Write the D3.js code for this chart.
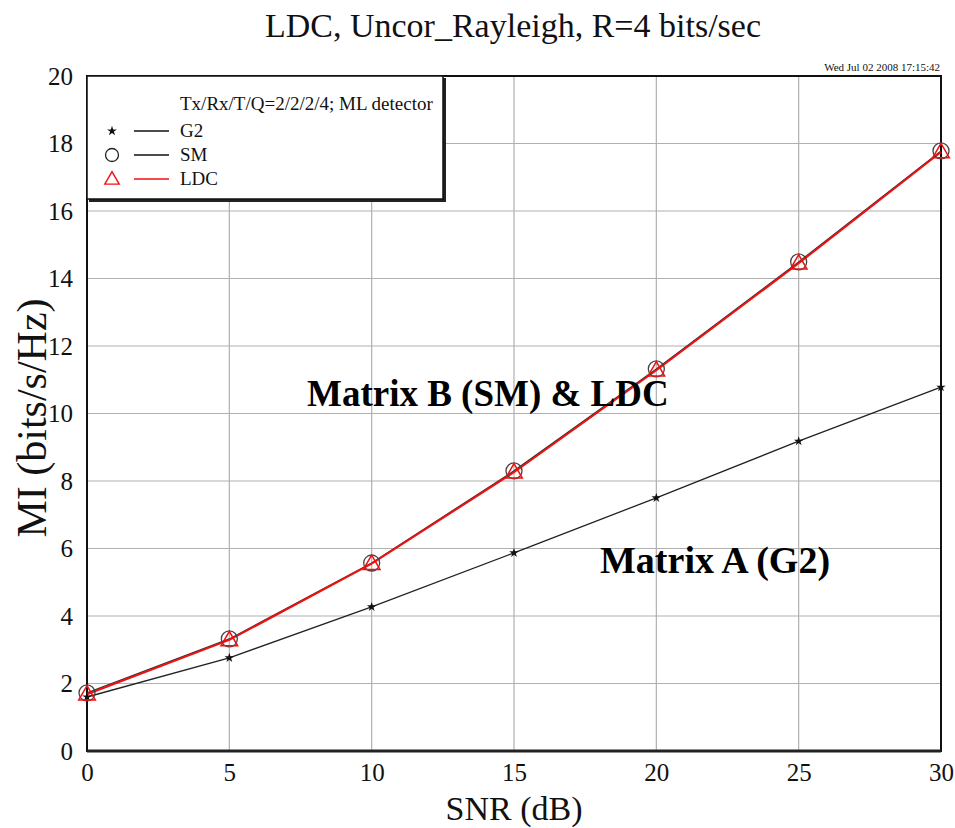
<!DOCTYPE html>
<html>
<head>
<meta charset="utf-8">
<script src="https://cdn.jsdelivr.net/npm/d3@7"></script>
<style>
  body { margin: 0; background: #fff; }
  svg text { font-family: "Liberation Serif", "Times New Roman", Times, serif !important; }
</style>
</head>
<body>
<div id="chart"></div>
<script>
// data
const snr = [0, 5, 10, 15, 20, 25, 30];
const g2 = [1.6, 2.76, 4.27, 5.87, 7.5, 9.18, 10.78];
const sm = [1.72, 3.32, 5.57, 8.3, 11.32, 14.49, 17.78];
const ldc = [1.68, 3.29, 5.55, 8.26, 11.28, 14.45, 17.75];
const xTicks = [0, 5, 10, 15, 20, 25, 30];
const yTicks = [0, 2, 4, 6, 8, 10, 12, 14, 16, 18, 20];

const W = 955, H = 828;
const margin = {top: 76, right: 14, bottom: 77, left: 87};
const width = W - margin.left - margin.right,
      height = H - margin.top - margin.bottom;
const serif = "'Liberation Serif', 'Times New Roman', serif";

const svg = d3.select("#chart").append("svg")
    .attr("width", W).attr("height", H)
    .attr("font-family", serif);

const g = svg.append("g")
    .attr("transform", `translate(${margin.left},${margin.top})`);

const x = d3.scaleLinear().domain([0, 30]).range([0, width]);
const y = d3.scaleLinear().domain([0, 20]).range([height, 0]);

// grid
g.selectAll(".vgrid").data(xTicks).join("line")
    .attr("x1", d => x(d)).attr("x2", d => x(d))
    .attr("y1", 0).attr("y2", height)
    .attr("stroke", "#b0b0b0").attr("stroke-width", 1.2);
g.selectAll(".hgrid").data(yTicks).join("line")
    .attr("x1", 0).attr("x2", width)
    .attr("y1", d => y(d)).attr("y2", d => y(d))
    .attr("stroke", "#b0b0b0").attr("stroke-width", 1.2);

// axes (labels only)
const xAxis = g.append("g")
    .attr("transform", `translate(0,${height})`)
    .call(d3.axisBottom(x).tickValues(xTicks).tickSize(0).tickPadding(12));
xAxis.attr("font-family", serif).attr("font-size", 25);
xAxis.select(".domain").remove();
xAxis.selectAll("text").attr("fill", "#111");

const yAxis = g.append("g")
    .call(d3.axisLeft(y).tickValues(yTicks).tickSize(0).tickPadding(14));
yAxis.attr("font-family", serif).attr("font-size", 25);
yAxis.select(".domain").remove();
yAxis.selectAll("text").attr("fill", "#111");

// plot frame
g.append("rect")
    .attr("width", width).attr("height", height)
    .attr("fill", "none").attr("stroke", "#111").attr("stroke-width", 2);
g.append("line").attr("x1", 0).attr("x2", width).attr("y1", height).attr("y2", height)
    .attr("stroke", "#222").attr("stroke-width", 3);

// lines
const line = d3.line().x((d, i) => x(snr[i])).y(d => y(d));

g.append("path").datum(g2)
    .attr("fill", "none").attr("stroke", "#222").attr("stroke-width", 1.3)
    .attr("d", line);
g.append("path").datum(sm)
    .attr("fill", "none").attr("stroke", "#333").attr("stroke-width", 1.3)
    .attr("d", line);
g.append("path").datum(ldc)
    .attr("fill", "none").attr("stroke", "#f01010").attr("stroke-width", 2)
    .attr("d", line);

// markers
const star = d3.symbol().type(d3.symbolStar).size(28);
const tri = d3.symbol().type(d3.symbolTriangle).size(120);

g.selectAll(".g2pt").data(g2).join("path")
    .attr("transform", (d, i) => `translate(${x(snr[i])},${y(d)})`)
    .attr("d", star).attr("fill", "#111");
g.selectAll(".smpt").data(sm).join("circle")
    .attr("cx", (d, i) => x(snr[i])).attr("cy", d => y(d))
    .attr("r", 8).attr("fill", "none").attr("stroke", "#444").attr("stroke-width", 1.3);
g.selectAll(".ldcpt").data(ldc).join("path")
    .attr("transform", (d, i) => `translate(${x(snr[i])},${y(d) + 1})`)
    .attr("d", tri).attr("fill", "none").attr("stroke", "#f01010").attr("stroke-width", 1.5);

// legend
const leg = svg.append("g").attr("transform", `translate(${margin.left},${margin.top})`);
leg.append("rect").attr("x", 2).attr("y", 2).attr("width", 357).attr("height", 124)
    .attr("fill", "#222");
leg.append("rect").attr("width", 356).attr("height", 123)
    .attr("fill", "#fff").attr("stroke", "#111").attr("stroke-width", 1.5);
leg.append("text").attr("x", 93).attr("y", 34)
    .style("font-size", "19px").attr("fill", "#111")
    .text("Tx/Rx/T/Q=2/2/2/4; ML detector");

const legItems = [
    {name: "G2", color: "#111"},
    {name: "SM", color: "#111"},
    {name: "LDC", color: "#f01010"}
];
legItems.forEach((it, i) => {
    const ly = 55 + i * 24;
    leg.append("line").attr("x1", 47).attr("x2", 82).attr("y1", ly).attr("y2", ly)
        .attr("stroke", it.color).attr("stroke-width", 1.4);
    leg.append("text").attr("x", 93).attr("y", ly + 6)
        .style("font-size", "19px").attr("fill", "#111").text(it.name);
});
leg.append("path").attr("transform", "translate(25,55)")
    .attr("d", d3.symbol().type(d3.symbolStar).size(30)).attr("fill", "#111");
leg.append("circle").attr("cx", 25).attr("cy", 79).attr("r", 6.5)
    .attr("fill", "none").attr("stroke", "#222").attr("stroke-width", 1.3);
leg.append("path").attr("transform", "translate(25,104)")
    .attr("d", d3.symbol().type(d3.symbolTriangle).size(90))
    .attr("fill", "none").attr("stroke", "#f01010").attr("stroke-width", 1.4);

// title and labels
svg.append("text").attr("x", 513).attr("y", 37).attr("text-anchor", "middle")
    .style("font-size", "34px").attr("fill", "#111")
    .text("LDC, Uncor_Rayleigh, R=4 bits/sec");
svg.append("text").attr("x", 940).attr("y", 71).attr("text-anchor", "end")
    .style("font-size", "11px").attr("fill", "#111")
    .text("Wed Jul 02 2008  17:15:42");
svg.append("text").attr("x", margin.left + width / 2).attr("y", 820)
    .attr("text-anchor", "middle").style("font-size", "34px").attr("fill", "#111")
    .text("SNR (dB)");
svg.append("text").attr("transform", `translate(46,418) rotate(-90)`)
    .attr("text-anchor", "middle").style("font-size", "42px").attr("fill", "#111")
    .text("MI (bits/s/Hz)");

// annotations
svg.append("text").attr("x", 307).attr("y", 406)
    .style("font-size", "37px").style("font-weight", "bold").attr("fill", "#000")
    .text("Matrix B (SM) & LDC");
svg.append("text").attr("x", 600).attr("y", 573)
    .style("font-size", "38px").style("font-weight", "bold").attr("fill", "#000")
    .text("Matrix A (G2)");
</script>
</body>
</html>
